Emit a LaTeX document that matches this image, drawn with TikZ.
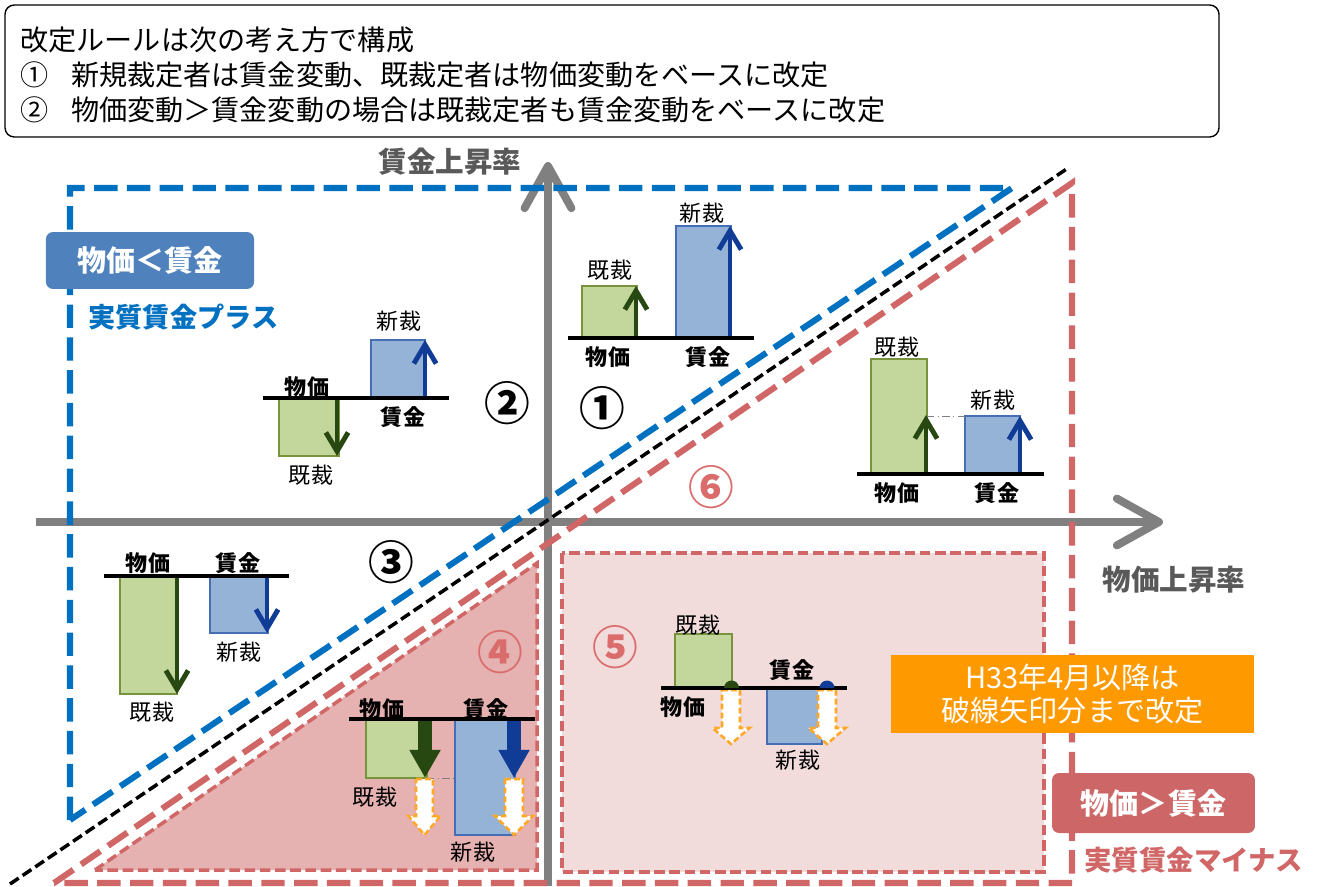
\documentclass[tikz,border=0pt]{standalone}
\usepackage{fontspec}
\setmainfont{Noto Sans CJK JP}
\usepackage{tikz}
\usetikzlibrary{arrows.meta}
\definecolor{axgray}{RGB}{128,128,128}
\definecolor{axtext}{RGB}{89,89,89}
\definecolor{plusblue}{RGB}{0,112,192}
\definecolor{boxblue}{RGB}{79,129,189}
\definecolor{minusred}{RGB}{208,102,102}
\definecolor{boxred}{RGB}{205,102,102}
\definecolor{numred}{RGB}{218,108,108}
\definecolor{fillfour}{RGB}{230,177,177}
\definecolor{fillfive}{RGB}{242,220,219}
\definecolor{barG}{RGB}{195,214,155}
\definecolor{barGline}{RGB}{119,147,60}
\definecolor{arrG}{RGB}{40,72,18}
\definecolor{barB}{RGB}{149,179,215}
\definecolor{barBline}{RGB}{70,110,180}
\definecolor{arrB}{RGB}{16,60,150}
\definecolor{orangebox}{RGB}{255,153,0}
\definecolor{hollowO}{RGB}{255,168,40}

\begin{document}
\begin{tikzpicture}[scale=0.15]
\tikzstyle{every node}+=[inner sep=0pt]
\tikzstyle{axisln}=[draw=axgray, line width=3.4pt, -{Straight Barb[round,length=18pt,width=20pt]}]
\tikzstyle{bigdash}=[line width=2.6pt, dash pattern=on 10pt off 4pt]
\tikzstyle{smalldash}=[line width=1.5pt, dash pattern=on 4.5pt off 2pt]
\tikzstyle{gbar}=[fill=barG, draw=barGline, line width=0.9pt]
\tikzstyle{bbar}=[fill=barB, draw=barBline, line width=0.9pt]
\tikzstyle{garr}=[draw=arrG, line width=2.1pt, -{Straight Barb[length=8pt,width=9.5pt]}]
\tikzstyle{barr}=[draw=arrB, line width=2.1pt, -{Straight Barb[length=8pt,width=9.5pt]}]
\tikzstyle{gfat}=[draw=arrG, line width=6pt, -{Triangle[length=12pt,width=12.5pt]}]
\tikzstyle{bfat}=[draw=arrB, line width=6pt, -{Triangle[length=12pt,width=12.5pt]}]
\tikzstyle{hollow}=[fill=white, draw=hollowO, line width=1.1pt, dash pattern=on 2.5pt off 1.3pt]
\tikzstyle{baseln}=[black, line width=1.3pt]
\tikzstyle{guide}=[axgray, line width=0.4pt, dash pattern=on 3pt off 1.5pt on 0.6pt off 1.5pt]
\tikzstyle{lab}=[font=\fontsize{9.4}{11}\selectfont]
\tikzstyle{labb}=[font=\fontsize{9.4}{11}\selectfont\bfseries]
\tikzstyle{num}=[font=\fontsize{19.5}{22}\selectfont\bfseries]
\tikzstyle{tag}=[text=white, rounded corners=3pt, font=\fontsize{12.4}{14}\selectfont\bfseries]
\useasboundingbox (0,0) rectangle (131.9,-88.6);
% rule box
\draw [black, line width=0.6pt, rounded corners=4pt] (0.5,-0.5) rectangle (121.9,-13.7);
\draw (2.0,-4.0) node (rule0) [anchor=west, font=\fontsize{12}{14}\selectfont] {改定ルールは次の考え方で構成};
\draw (2.0,-7.5) node (rule1) [anchor=west, font=\fontsize{12}{14}\selectfont] {①\hspace{0.8em}新規裁定者は賃金変動、既裁定者は物価変動をベースに改定};
\draw (2.0,-11.0) node (rule2) [anchor=west, font=\fontsize{12}{14}\selectfont] {②\hspace{0.8em}物価変動＞賃金変動の場合は既裁定者も賃金変動をベースに改定};
% shaded regions
\fill [fillfour] (9.5,-87.0) -- (53.7,-56.3) -- (53.7,-87.0) -- cycle;
\fill [fillfive] (56.2,-55.3) rectangle (104.4,-87.2);
% axes
\coordinate (xtail) at (3.6,-52.2);
\coordinate (xtip) at (116.3,-52.2);
\coordinate (ytail) at (54.8,-88.6);
\coordinate (ytip) at (54.8,-16.2);
\draw [axisln] (xtail) -- (xtip);
\draw [axisln] (ytail) -- (ytip);
\draw (45.0,-16.2) node (ylab) [font=\fontsize{12.2}{14}\selectfont\bfseries, text=axtext] {賃金上昇率};
\draw (117.4,-58.0) node (xlab) [font=\fontsize{12.2}{14}\selectfont\bfseries, text=axtext] {物価上昇率};
% border lines
\draw [plusblue, bigdash] (7.0,-82.0) -- (7.0,-18.8) -- (101.2,-18.8) -- cycle;
\draw [black, smalldash] (1.0,-88.4) -- (106.8,-16.8);
\draw [minusred, bigdash] (5.4,-88.3) -- (107.2,-18.3) -- (107.2,-88.3) -- cycle;
\draw [minusred, smalldash] (9.5,-87.0) -- (53.7,-56.3) -- (53.7,-87.0) -- cycle;
\draw [minusred, smalldash] (56.2,-55.3) rectangle (104.4,-87.2);
% tags
\draw (15.0,-26.05) node (plustag) [tag, fill=boxblue, minimum width=88.8pt, minimum height=24.3pt] {物価＜賃金};
\draw (8.8,-31.7) node (plustxt) [anchor=west, text=plusblue, font=\fontsize{11.6}{14}\selectfont\bfseries] {実質賃金プラス};
\draw (115.35,-80.3) node (minustag) [tag, fill=boxred, minimum width=86.6pt, minimum height=25.6pt] {物価＞賃金};
\draw (108.4,-86.0) node (minustxt) [anchor=west, text=minusred, font=\fontsize{11.7}{14}\selectfont\bfseries] {実質賃金マイナス};
\draw (107.25,-69.4) node (note) [fill=orangebox, text=white, align=center, minimum width=154.9pt, minimum height=33.3pt, font=\fontsize{12.4}{14.1}\selectfont] {H33年4月以降は\\破線矢印分まで改定};
% chart 1
\draw [gbar] (58.2,-28.6) rectangle (63.7,-33.8);
\draw [bbar] (67.6,-22.6) rectangle (73.1,-33.8);
\draw [garr] (63.6,-33.8) -- (63.6,-28.6);
\draw [barr] (73.0,-33.8) -- (73.0,-22.6);
\draw [baseln] (56.8,-33.8) -- (75.4,-33.8);
\draw (61.0,-27.0) node (kisai1) [lab] {既裁};
\draw (70.2,-21.3) node (shinsai1) [lab] {新裁};
\draw (60.8,-35.7) node (bukka1) [labb] {物価};
\draw (70.8,-35.7) node (chingin1) [labb] {賃金};
% chart 2
\draw [gbar] (27.9,-39.8) rectangle (33.9,-45.6);
\draw [bbar] (37.1,-34.0) rectangle (42.5,-39.8);
\draw [garr] (33.7,-39.8) -- (33.7,-45.6);
\draw [barr] (42.5,-39.8) -- (42.5,-34.0);
\draw [baseln] (26.3,-39.8) -- (44.9,-39.8);
\draw (39.9,-32.1) node (shinsai2) [lab] {新裁};
\draw (31.1,-47.5) node (kisai2) [lab] {既裁};
\draw (30.7,-38.7) node (bukka2) [labb] {物価};
\draw (40.3,-41.7) node (chingin2) [labb] {賃金};
% chart 3
\draw [gbar] (12.0,-57.6) rectangle (17.7,-69.4);
\draw [bbar] (21.0,-57.6) rectangle (26.8,-63.3);
\draw [garr] (17.7,-57.6) -- (17.7,-69.4);
\draw [barr] (26.7,-57.6) -- (26.7,-63.3);
\draw [baseln] (10.4,-57.6) -- (28.9,-57.6);
\draw (14.8,-56.3) node (bukka3) [labb] {物価};
\draw (23.8,-56.3) node (chingin3) [labb] {賃金};
\draw (23.9,-65.2) node (shinsai3) [lab] {新裁};
\draw (15.2,-71.2) node (kisai3) [lab] {既裁};
% chart 4
\draw [gbar] (36.6,-71.9) rectangle (42.7,-77.8);
\draw [bbar] (45.5,-71.9) rectangle (51.5,-83.5);
\draw [guide] (42.7,-77.8) -- (45.5,-77.8);
\draw [gfat] (42.5,-71.9) -- (42.5,-77.8);
\draw [bfat] (51.4,-71.9) -- (51.4,-77.8);
\draw [hollow] (41.6,-77.9) -- (43.3,-77.9) -- (43.3,-81.6) -- (44.05,-81.6) -- (42.45,-83.5) -- (40.85,-81.6) -- (41.6,-81.6) -- cycle;
\draw [hollow] (50.5,-77.9) -- (52.3,-77.9) -- (52.3,-81.6) -- (53.3,-81.6) -- (51.4,-83.5) -- (49.5,-81.6) -- (50.5,-81.6) -- cycle;
\draw [baseln] (34.9,-71.9) -- (53.5,-71.9);
\draw (38.2,-70.9) node (bukka4) [labb] {物価};
\draw (48.6,-70.9) node (chingin4) [labb] {賃金};
\draw (37.5,-79.7) node (kisai4) [lab] {既裁};
\draw (47.3,-85.2) node (shinsai4) [lab] {新裁};
% chart 5
\draw [gbar] (67.5,-63.4) rectangle (73.2,-68.8);
\draw [bbar] (76.7,-68.8) rectangle (82.2,-74.4);
\draw [hollow] (72.2,-69.0) -- (74.0,-69.0) -- (74.0,-72.8) -- (74.95,-72.8) -- (73.1,-74.4) -- (71.25,-72.8) -- (72.2,-72.8) -- cycle;
\draw [hollow] (81.8,-69.0) -- (83.6,-69.0) -- (83.6,-72.8) -- (84.55,-72.8) -- (82.7,-74.4) -- (80.85,-72.8) -- (81.8,-72.8) -- cycle;
\draw [baseln] (66.1,-68.8) -- (84.7,-68.8);
\fill [arrG] (72.4,-68.8) arc (180:0:0.75) -- cycle;
\fill [arrB] (81.95,-68.8) arc (180:0:0.75) -- cycle;
\draw (69.8,-62.5) node (kisai5) [lab] {既裁};
\draw (79.2,-67.0) node (chingin5) [labb] {賃金};
\draw (68.3,-70.7) node (bukka5) [labb] {物価};
\draw (79.8,-76.0) node (shinsai5) [lab] {新裁};
% chart 6
\draw [gbar] (87.1,-35.9) rectangle (92.7,-47.4);
\draw [bbar] (96.5,-41.6) rectangle (102.0,-47.4);
\draw [guide] (92.7,-41.6) -- (96.5,-41.6);
\draw [garr] (92.6,-47.4) -- (92.6,-41.5);
\draw [barr] (102.0,-47.4) -- (102.0,-41.6);
\draw [baseln] (85.7,-47.4) -- (104.4,-47.4);
\draw (89.7,-34.7) node (kisai6) [lab] {既裁};
\draw (99.3,-40.0) node (shinsai6) [lab] {新裁};
\draw (89.7,-49.3) node (bukka6) [labb] {物価};
\draw (99.7,-49.3) node (chingin6) [labb] {賃金};
% case numbers
\draw (60.2,-40.8) node (case1) [num] {①};
\draw (50.7,-40.3) node (case2) [num] {②};
\draw (39.1,-56.2) node (case3) [num] {③};
\draw (50.0,-65.2) node (case4) [num, text=numred] {④};
\draw (61.5,-64.7) node (case5) [num, text=numred] {⑤};
\draw (71.1,-48.7) node (case6) [num, text=numred] {⑥};
\end{tikzpicture}
\end{document}
